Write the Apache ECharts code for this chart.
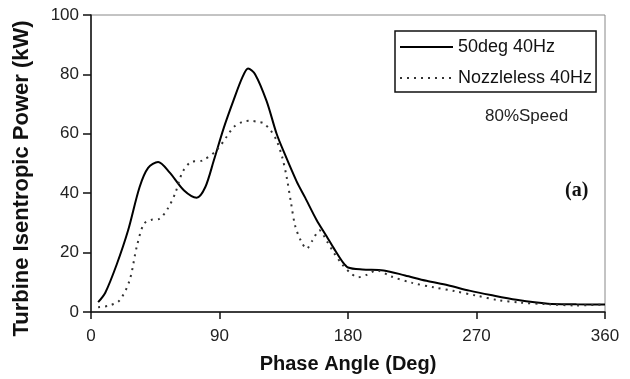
<!DOCTYPE html>
<html>
<head>
<meta charset="utf-8">
<script src="https://cdn.jsdelivr.net/npm/echarts@6/dist/echarts.min.js"></script>
<style>
  html, body { margin: 0; padding: 0; background: #fff; }
  #chart { width: 630px; height: 379px; }
</style>
</head>
<body>
<div id="chart"></div>
<script>
// 50deg 40Hz (solid)
var solidDeg = [5, 10, 18, 26, 34, 40, 47, 55, 65, 74, 80, 86, 93, 100, 106, 110, 115, 123, 130, 135, 144, 150, 158, 165, 170, 176, 180, 190, 205, 220, 235, 250, 265, 280, 298, 320, 340, 360];
var solidVal = [3.3, 6.5, 16, 27.5, 42, 48.5, 50.5, 47, 41, 38.5, 42, 51, 62, 71.5, 79, 82, 80, 71, 60, 54, 44, 38.5, 31, 25.5, 21.5, 17, 15, 14.3, 14, 12.3, 10.5, 9, 7.2, 5.7, 4.1, 2.8, 2.6, 2.5];

// Nozzleless 40Hz (dotted)
var dotDeg = [5, 13, 20, 27, 32, 37, 42, 48, 54, 59, 64, 70, 78, 88, 95, 100, 106, 111, 117, 121, 126, 130, 134, 137, 140, 143, 147, 151, 155, 160, 165, 170, 176, 182, 187, 193, 200, 210, 225, 240, 255, 270, 285, 300, 320, 340, 358];
var dotVal = [1.6, 2.2, 3.9, 10.6, 21.9, 29.7, 31, 31.4, 35, 40, 47, 50.5, 51, 54.5, 59, 62.3, 64, 64.4, 64, 63.5, 61, 57.8, 52, 45.5, 37, 29, 24, 21.3, 24, 27.5, 24, 20, 16, 13, 11.7, 12.5, 14, 12, 9.8, 8.3, 7, 5.5, 4, 3.2, 2.6, 2.2, 2.5];

var seriesNames = ['50deg 40Hz', 'Nozzleless 40Hz'];

function pairs(xs, ys) {
  var out = [];
  for (var i = 0; i < xs.length; i++) out.push([xs[i], ys[i]]);
  return out;
}

var chart = echarts.init(document.getElementById('chart'));

var font = 'Liberation Sans, Arial';

var option = {
  backgroundColor: '#fff',
  animation: false,
  grid: {
    left: 91, right: 25, top: 15, bottom: 67,
    show: true, borderColor: '#888', borderWidth: 1
  },
  legend: {
    orient: 'vertical',
    left: 395, top: 31,
    padding: [7, 4, 5, 4],
    itemGap: 13,
    itemWidth: 53, itemHeight: 14,
    borderColor: '#111', borderWidth: 1.5,
    itemStyle: { opacity: 0 },
    textStyle: { fontFamily: font, fontSize: 18, color: '#111' },
    data: seriesNames
  },
  xAxis: {
    type: 'value', min: 0, max: 360, interval: 90,
    name: 'Phase Angle (Deg)', nameLocation: 'middle', nameGap: 42,
    nameTextStyle: { fontFamily: font, fontWeight: 'bold', fontSize: 20, color: '#111' },
    axisLine: { lineStyle: { color: '#111', width: 1.5 } },
    axisTick: { length: 7, lineStyle: { color: '#111', width: 1.5 } },
    axisLabel: { margin: 16, fontFamily: font, fontSize: 17, color: '#222' },
    splitLine: { show: false }
  },
  yAxis: {
    type: 'value', min: 0, max: 100, interval: 20,
    name: 'Turbine Isentropic Power (kW)', nameLocation: 'middle', nameGap: 58,
    nameTextStyle: { fontFamily: font, fontWeight: 'bold', fontSize: 22, color: '#111', padding: [0, 30, 0, 0] },
    axisLine: { lineStyle: { color: '#111', width: 1.5 } },
    axisTick: { length: 8, lineStyle: { color: '#111', width: 1.5 } },
    axisLabel: { margin: 12, fontFamily: font, fontSize: 17, color: '#222' },
    splitLine: { show: false }
  },
  graphic: [
    { type: 'text', left: 485, top: 108, style: { text: '80%Speed', font: '17px "Liberation Sans", Arial', fill: '#222' } },
    { type: 'text', left: 565, top: 181, style: { text: '(a)', font: 'bold 20px "Liberation Serif", "Times New Roman"', fill: '#111' } }
  ],
  series: [
    {
      name: seriesNames[0], type: 'line', smooth: 0.3, symbol: 'none',
      lineStyle: { color: '#000', width: 2 },
      itemStyle: { color: '#000' },
      data: pairs(solidDeg, solidVal)
    },
    {
      name: seriesNames[1], type: 'line', smooth: 0.3, symbol: 'none',
      lineStyle: { color: '#333', width: 2, type: [2, 5] },
      itemStyle: { color: '#333' },
      data: pairs(dotDeg, dotVal)
    }
  ]
};

chart.setOption(option);
</script>
</body>
</html>
